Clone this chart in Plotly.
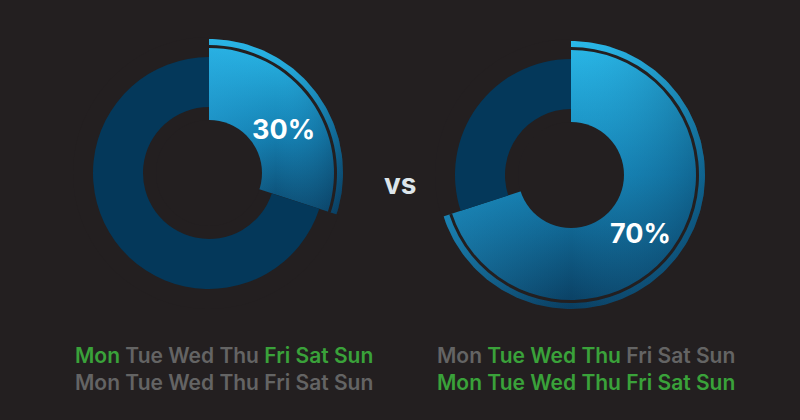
import numpy as np
import plotly.graph_objects as go

# ---------------- data ----------------
left_shares = [30, 70]      # highlighted share, remainder (clockwise from 12 o'clock)
right_shares = [70, 30]
left_label = "30%"
right_label = "70%"
vs_label = "vs"
days = ["Mon", "Tue", "Wed", "Thu", "Fri", "Sat", "Sun"]
left_row1_active = [1, 0, 0, 0, 1, 1, 1]
left_row2_active = [0, 0, 0, 0, 0, 0, 0]
right_row1_active = [0, 1, 1, 1, 0, 0, 0]
right_row2_active = [1, 1, 1, 1, 1, 1, 1]

# ---------------- style ----------------
W, H = 800, 420
BG = "#231f20"
RING = "#04385a"
LIGHT = "#2ab8e8"
MID = "#1581b3"
DARK = "#0a3d60"
GREEN = "#3aa23a"
GRAY = "#646464"
CLEAR = "rgba(0,0,0,0)"
FONT = "Inter"

R_BAND_OUT, R_GAP_OUT, R_GAP_IN = 134, 128, 125
R_RING_OUT, R_RING_IN = 116, 66
R_SLICE_IN = 53

fig = go.Figure()


def dom(cx, cy, r):
    return dict(x=[(cx - r) / W, (cx + r) / W], y=[(H - cy - r) / H, (H - cy + r) / H])


def donut(cx, cy, shares, grad_top, grad_bottom, grad_left, grad_right):
    # gradient backdrop disks (revealed only inside the highlighted slice)
    t = np.linspace(0, 2 * np.pi, 241)
    xs = cx + R_BAND_OUT * np.cos(t)
    ys = (H - cy) + R_BAND_OUT * np.sin(t)
    fig.add_trace(go.Scatter(
        x=xs, y=ys, mode="lines", line=dict(width=0, color=CLEAR), fill="toself",
        fillgradient=dict(type="vertical", start=H - grad_bottom, stop=H - grad_top,
                          colorscale=[[0, DARK], [0.5, MID], [1, LIGHT]]),
        hoverinfo="skip", showlegend=False))
    fig.add_trace(go.Scatter(
        x=xs, y=ys, mode="lines", line=dict(width=0, color=CLEAR), fill="toself",
        fillgradient=dict(type="horizontal", start=grad_left, stop=grad_right,
                          colorscale=[[0, "rgba(42,170,225,0.35)"], [0.5, "rgba(42,170,225,0)"],
                                      [1, "rgba(4,40,70,0.35)"]]),
        hoverinfo="skip", showlegend=False))
    common = dict(sort=False, direction="clockwise", rotation=0,
                  textinfo="none", hoverinfo="skip", showlegend=False)
    # mask outside highlighted slice
    fig.add_trace(go.Pie(values=shares, domain=dom(cx, cy, R_BAND_OUT + 2), hole=0,
                         marker=dict(colors=[CLEAR, BG], line=dict(width=0)), **common))
    # thin gap between slice and outer band
    fig.add_trace(go.Pie(values=shares, domain=dom(cx, cy, R_GAP_OUT), hole=R_GAP_IN / R_GAP_OUT,
                         marker=dict(colors=[BG, CLEAR], line=dict(width=0)), **common))
    # dark remainder ring
    fig.add_trace(go.Pie(values=shares, domain=dom(cx, cy, R_RING_OUT), hole=R_RING_IN / R_RING_OUT,
                         marker=dict(colors=[CLEAR, RING], line=dict(width=0)), **common))
    # centre hole
    fig.add_trace(go.Pie(values=[sum(shares)], domain=dom(cx, cy, R_SLICE_IN), hole=0,
                         marker=dict(colors=[BG], line=dict(width=0)), **common))


donut(209, 173, left_shares, 39, 225, 209, 343)
donut(571, 175, right_shares, 41, 309, 437, 705)


def row(active):
    return " ".join(f'<span style="color:{GREEN if a else GRAY}">{d}</span>'
                    for d, a in zip(days, active))


ann = [
    dict(x=283, y=H - 129, text=left_label, font=dict(family=FONT, size=27, color="white", weight=700)),
    dict(x=640, y=H - 233, text=right_label, font=dict(family=FONT, size=27, color="white", weight=700)),
    dict(x=400, y=H - 184, text=vs_label, font=dict(family=FONT, size=28, color="#dde5ea", weight=700)),
    dict(x=223.5, y=H - 355, text=row(left_row1_active), font=dict(family=FONT, size=21, weight=600)),
    dict(x=223.5, y=H - 382, text=row(left_row2_active), font=dict(family=FONT, size=21, weight=600)),
    dict(x=586, y=H - 355, text=row(right_row1_active), font=dict(family=FONT, size=21, weight=600)),
    dict(x=586, y=H - 382, text=row(right_row2_active), font=dict(family=FONT, size=21, weight=600)),
]
for a in ann:
    a.update(xref="x", yref="y", showarrow=False, xanchor="center", yanchor="middle")

fig.update_layout(
    width=W, height=H, paper_bgcolor=BG, plot_bgcolor=BG,
    margin=dict(l=0, r=0, t=0, b=0),
    xaxis=dict(range=[0, W], visible=False, fixedrange=True),
    yaxis=dict(range=[0, H], visible=False, fixedrange=True),
    annotations=ann, showlegend=False,
)
fig.write_html("out.html", config={"displayModeBar": False},
               post_script="document.body.style.margin='0';")
